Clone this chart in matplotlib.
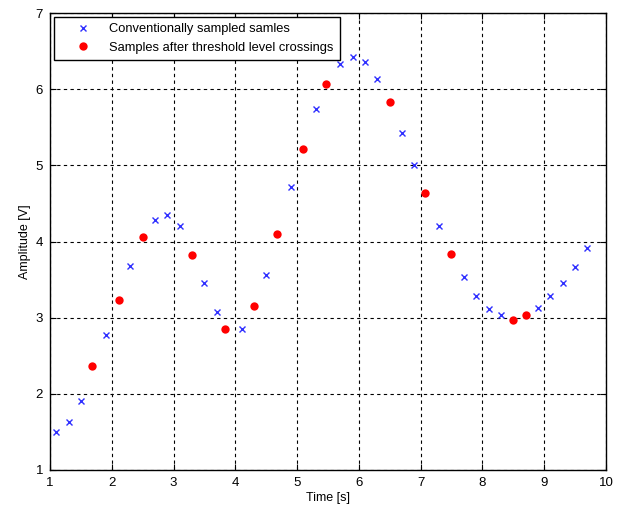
import matplotlib
matplotlib.use('Agg')
import matplotlib.pyplot as plt

plt.rcParams['font.family'] = ['Liberation Sans', 'DejaVu Sans']

# muestras convencionales (cruces azules)
t_conv = [1.1, 1.3, 1.5, 1.9, 2.3, 2.7, 2.9, 3.1, 3.5, 3.7, 4.1, 4.5, 4.9, 5.3,
          5.7, 5.9, 6.1, 6.3, 6.7, 6.9, 7.3, 7.7, 7.9, 8.1, 8.3, 8.9, 9.1, 9.3,
          9.5, 9.7]
a_conv = [1.50, 1.63, 1.91, 2.77, 3.68, 4.28, 4.35, 4.20, 3.45, 3.07, 2.85, 3.56,
          4.71, 5.74, 6.33, 6.42, 6.36, 6.14, 5.43, 5.01, 4.20, 3.54, 3.29, 3.12,
          3.03, 3.13, 3.28, 3.45, 3.67, 3.91]

# muestras tras cruce de nivel (puntos rojos)
t_lvl = [1.68, 2.12, 2.51, 3.30, 3.83, 4.30, 4.67, 5.10, 5.47, 6.50, 7.07, 7.49,
         8.49, 8.70]
a_lvl = [2.36, 3.23, 4.06, 3.82, 2.85, 3.15, 4.10, 5.22, 6.07, 5.83, 4.64, 3.83,
         2.97, 3.04]

fig = plt.figure(figsize=(6.22, 5.09), dpi=100)
ax = fig.add_axes([50/622, 1 - 470/509, 556/622, 457/509])

ax.plot(t_conv, a_conv, 'x', color='#3030ff', markersize=5, markeredgewidth=1.0,
        label='Conventionally sampled samles')
ax.plot(t_lvl, a_lvl, 'o', color='#ff0000', markersize=6, markeredgewidth=0,
        label='Samples after threshold level crossings')

ax.set_xlim(1, 10)
ax.set_ylim(1, 7)
ax.set_xticks(range(1, 11))
ax.set_yticks(range(1, 8))
ax.set_xlabel('Time [s]', fontsize=9, labelpad=2)
ax.set_ylabel('Amplitude [V]', fontsize=9, labelpad=3)
ax.tick_params(direction='in', top=True, right=True, labelsize=9.5, length=4, pad=5)
ax.grid(True, color='k', linestyle=(0, (3, 3)), linewidth=0.8)
for s in ax.spines.values():
    s.set_linewidth(1.0)

leg = ax.legend(loc='upper left', fontsize=9.25, frameon=True, fancybox=False,
                edgecolor='k', framealpha=1, borderaxespad=0.3,
                handlelength=3.5, handletextpad=0.3, borderpad=0.5,
                labelspacing=0.5)
leg.get_frame().set_linewidth(1.0)

fig.savefig('out.png', dpi=100)
